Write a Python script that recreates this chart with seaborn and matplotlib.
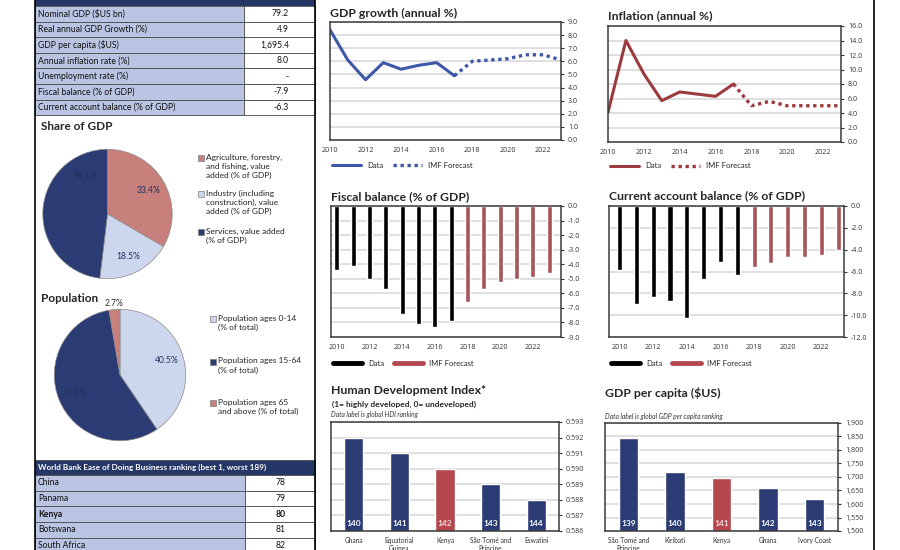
import numpy as np
import pandas as pd
import matplotlib.pyplot as plt
import seaborn as sns
from matplotlib.patches import Rectangle
from matplotlib.lines import Line2D
from matplotlib.ticker import FuncFormatter

# ---- data ----
summary_labels = ['Nominal GDP ($US bn)', 'Real annual GDP Growth (%)', 'GDP per capita ($US)',
                  'Annual inflation rate (%)', 'Unemployment rate (%)', 'Fiscal balance (% of GDP)',
                  'Current account balance (% of GDP)']
summary_values = ['79.2', '4.9', '1,695.4', '8.0', '-', '-7.9', '-6.3']

share_labels = ['Agriculture, forestry,\nand fishing, value\nadded (% of GDP)',
                'Industry (including\nconstruction), value\nadded (% of GDP)',
                'Services, value added\n(% of GDP)']
share_values = [33.4, 18.5, 48.1]

pop_labels = ['Population ages 0-14\n(% of total)', 'Population ages 15-64\n(% of total)',
              'Population ages 65\nand above (% of total)']
pop_values = [40.5, 56.8, 2.7]

doing_title = 'World Bank Ease of Doing Business ranking (best 1, worst 189)'
doing_countries = ['China', 'Panama', 'Kenya', 'Botswana', 'South Africa']
doing_ranks = [78, 79, 80, 81, 82]

years = list(range(2010, 2024))
n_actual = 8  # 2010-2017 actual, 2018-2023 IMF forecast
gdp_growth_data = [8.4, 6.1, 4.6, 5.9, 5.4, 5.7, 5.9, 4.9]
gdp_growth_fcst = [4.9, 6.0, 6.1, 6.2, 6.5, 6.5, 6.1]
inflation_data = [4.1, 14.0, 9.4, 5.7, 6.9, 6.6, 6.3, 8.0]
inflation_fcst = [8.0, 5.0, 5.6, 5.0, 5.0, 5.0, 5.0]
fiscal_balance = [-4.4, -4.1, -5.0, -5.7, -7.4, -8.1, -8.3, -7.9, -6.6, -5.7, -5.2, -5.0, -4.9, -4.6]
current_account = [-5.9, -9.0, -8.3, -8.7, -10.3, -6.7, -5.1, -6.3, -5.6, -5.2, -4.7, -4.65, -4.5, -4.0]

hdi_countries = ['Ghana', 'Equatorial\nGuinea', 'Kenya', 'São Tomé and\nPríncipe', 'Eswatini']
hdi_values = [0.592, 0.591, 0.590, 0.589, 0.588]
hdi_ranks = [140, 141, 142, 143, 144]

gdppc_countries = ['São Tomé and\nPríncipe', 'Kiribati', 'Kenya', 'Ghana', 'Ivory Coast']
gdppc_values = [1846, 1719, 1695, 1660, 1620]
gdppc_ranks = [139, 140, 141, 142, 143]

# ---- style ----
sns.set_style('white')
plt.rcParams['font.family'] = ['Lato', 'DejaVu Sans']
TICK_FONT = ['Open Sans', 'DejaVu Sans']

NAVY = '#2b3b73'
LIGHT = '#ccd7ee'
PINK = '#c8807c'
BLUE_LINE = '#3d58a8'
RED_LINE = '#9c3b3d'
RED_BAR = '#b5474f'
CELL = '#b9c5e2'
HEAD = '#243767'
GRID = '#d9d9d9'
FRAME = '#3a3a3a'

fig = plt.figure(figsize=(9, 5.5), dpi=100)

ov = fig.add_axes([0, 0, 1, 1])
ov.set_xlim(0, 900)
ov.set_ylim(550, 0)
ov.axis('off')


def px_axes(x0, y0, x1, y1):
    return fig.add_axes([x0 / 900, 1 - y1 / 550, (x1 - x0) / 900, (y1 - y0) / 550])


def frame(ax):
    for s in ax.spines.values():
        s.set_visible(True)
        s.set_color(FRAME)
        s.set_linewidth(1.1)


def tick_fonts(ax, size=5.1):
    for lab in ax.get_xticklabels() + ax.get_yticklabels():
        lab.set_family(TICK_FONT)
        lab.set_fontsize(size)


# ---- left panel tables ----
row_h = 15.6
ov.add_patch(Rectangle((35, -4), 280, 10, fc=HEAD, ec='none'))
for i, (lab, val) in enumerate(zip(summary_labels, summary_values)):
    y0 = 6 + i * row_h
    ov.add_patch(Rectangle((35, y0), 209, row_h, fc=CELL, ec='#4a4a4a', lw=0.6))
    ov.add_patch(Rectangle((244, y0), 71, row_h, fc='white', ec='#4a4a4a', lw=0.6))
    ov.text(38, y0 + row_h / 2, lab, fontsize=6.2, va='center', ha='left', color='#111111')
    ov.text(289, y0 + row_h / 2, val, fontsize=6.2, va='center', ha='right', color='#111111')

ov.add_patch(Rectangle((35, 459.5), 280, row_h, fc=HEAD, ec='#4a4a4a', lw=0.6))
ov.text(38, 459.5 + row_h / 2, doing_title, fontsize=5.9, fontweight='bold', color='white', va='center')
for i, (c, r) in enumerate(zip(doing_countries, doing_ranks)):
    y0 = 459.5 + (i + 1) * row_h
    w = 'bold' if c == 'Kenya' else 'normal'
    ov.add_patch(Rectangle((35, y0), 210, row_h, fc=CELL, ec='#4a4a4a', lw=0.6))
    ov.add_patch(Rectangle((245, y0), 70, row_h, fc='white', ec='#4a4a4a', lw=0.6))
    ov.text(38, y0 + row_h / 2, c, fontsize=6.2, va='center', fontweight=w, color='#111111')
    ov.text(281, y0 + row_h / 2, str(r), fontsize=6.2, va='center', ha='center', fontweight=w,
            color='#111111')

# panel borders
ov.plot([35, 35], [0, 550], color='black', lw=1.2)
ov.plot([315, 315], [0, 550], color='black', lw=1.2)
ov.plot([874, 874], [0, 550], color='black', lw=1.2)

# ---- pies ----
ov.text(41, 126, 'Share of GDP', fontsize=8.5, fontweight='bold', va='center')
ax = px_axes(41.5, 148, 173.5, 280)
share_colors = [PINK, LIGHT, NAVY]
w, t, at = ax.pie(share_values, colors=share_colors, startangle=90, counterclock=False,
                  autopct='%.1f%%', pctdistance=0.73,
                  wedgeprops=dict(edgecolor='#8a8a8a', linewidth=0.5),
                  textprops=dict(fontsize=6.2, color='#1f2f5c'))
at[2].set_position((0.68 * np.cos(np.deg2rad(119)), 0.68 * np.sin(np.deg2rad(119))))
ax.set_xlim(-1.02, 1.02)
ax.set_ylim(-1.02, 1.02)
ax.set_aspect('equal')

for i, (lab, col) in enumerate(zip(share_labels, share_colors)):
    y = [158, 194, 232][i]
    ov.add_patch(Rectangle((198, y - 3), 6, 6, fc=col, ec='#7f7f7f', lw=0.5))
    ov.text(206, y - 4.5, lab, fontsize=6, va='top', ha='left', color='#222222', linespacing=1.35)

ov.text(41, 298, 'Population', fontsize=8.5, fontweight='bold', va='center')
ax = px_axes(53, 308, 187, 442)
pop_colors = [LIGHT, NAVY, PINK]
w, t, at = ax.pie(pop_values, colors=pop_colors, startangle=90, counterclock=False,
                  autopct='%.1f%%', pctdistance=0.75,
                  wedgeprops=dict(edgecolor='#8a8a8a', linewidth=0.5),
                  textprops=dict(fontsize=6.2, color='#1f2f5c'))
theta = np.deg2rad(90 + pop_values[2] / sum(pop_values) * 360 / 2)
at[2].set_position((1.1 * np.cos(theta), 1.1 * np.sin(theta)))
at[2].set_color('#333333')
ax.set_xlim(-1.02, 1.02)
ax.set_ylim(-1.02, 1.02)
ax.set_aspect('equal')

for i, (lab, col) in enumerate(zip(pop_labels, pop_colors)):
    y = [319, 362, 403][i]
    ov.add_patch(Rectangle((210, y - 3), 6, 6, fc=col, ec='#7f7f7f', lw=0.5))
    ov.text(218, y - 4.5, lab, fontsize=6, va='top', ha='left', color='#222222', linespacing=1.35)


# ---- line charts ----
def line_panel(box, actual, fcst, color, ymax, step, title, title_y, leg_y):
    ax = px_axes(*box)
    sns.lineplot(x=years[:n_actual], y=actual, ax=ax, color=color, linewidth=2.2, label='Data')
    sns.lineplot(x=years[n_actual - 1:], y=fcst, ax=ax, color=color, linewidth=2.4,
                 linestyle=(0, (1, 1.1)), label='IMF Forecast')
    ax.set_xlim(2010, 2023)
    ax.set_ylim(0, ymax)
    ax.set_yticks(np.arange(0, ymax + 0.01, step))
    ax.set_xticks(range(2010, 2023, 2))
    ax.yaxis.tick_right()
    ax.yaxis.set_major_formatter(FuncFormatter(lambda v, p: f'{v:.1f}'))
    ax.grid(axis='y', color=GRID, lw=1.2)
    ax.set_axisbelow(True)
    ax.tick_params(length=2, pad=3, colors='#333333')
    ax.set_xlabel('')
    ax.set_ylabel('')
    tick_fonts(ax)
    frame(ax)
    h = box[3] - box[1]
    ax.legend(loc='center left', bbox_to_anchor=(-0.02, -(leg_y - box[3]) / h), ncol=2,
              frameon=False, fontsize=5.5, handlelength=3.8, columnspacing=1.2, handletextpad=0.8)
    ov.text(box[0], title_y, title, fontsize=8.8, fontweight='bold', va='center')
    return ax


line_panel((330, 22, 561, 140), gdp_growth_data, gdp_growth_fcst, BLUE_LINE, 9, 1,
           'GDP growth (annual %)', 13, 165)
line_panel((608, 26, 841, 142), inflation_data, inflation_fcst, RED_LINE, 16, 2,
           'Inflation (annual %)', 16, 166)


# ---- balance bar charts ----
def bar_panel(box, values, ymin, step, title, title_y, leg_y, xlim):
    ax = px_axes(*box)
    df = pd.DataFrame({'year': [str(y) for y in years], 'value': values,
                       'kind': ['Data'] * n_actual + ['IMF Forecast'] * (len(years) - n_actual)})
    sns.barplot(data=df, x='year', y='value', hue='kind', dodge=False, width=0.3,
                palette={'Data': 'black', 'IMF Forecast': RED_BAR}, ax=ax, legend=False)
    ax.set_ylim(ymin, 0)
    ax.set_xlim(*xlim)
    ax.set_yticks(np.arange(ymin, 0.01, step))
    ax.set_xticks(range(0, len(years), 2))
    ax.set_xticklabels([str(y) for y in years[::2]])
    ax.yaxis.tick_right()
    ax.yaxis.set_major_formatter(FuncFormatter(lambda v, p: f'{v:.1f}'))
    ax.grid(axis='y', color=GRID, lw=1.2)
    ax.set_axisbelow(True)
    ax.tick_params(length=2, pad=3, colors='#333333')
    ax.set_xlabel('')
    ax.set_ylabel('')
    tick_fonts(ax)
    frame(ax)
    h = box[3] - box[1]
    handles = [Line2D([], [], color='black', lw=3.5), Line2D([], [], color=RED_BAR, lw=3.5)]
    ax.legend(handles, ['Data', 'IMF Forecast'], loc='center left',
              bbox_to_anchor=(-0.02, -(leg_y - box[3]) / h), ncol=2, frameon=False,
              fontsize=5.5, handlelength=3.8, columnspacing=1.2, handletextpad=0.8)
    ov.text(box[0], title_y, title, fontsize=8.8, fontweight='bold', va='center')
    return ax


bar_panel((331, 206, 561, 337), fiscal_balance, -9, 1, 'Fiscal balance (% of GDP)', 197, 363,
          (-0.35, 13.72))
bar_panel((609, 206, 844, 337), current_account, -12, 2, 'Current account balance (% of GDP)', 196, 363,
          (-0.63, 13.35))


# ---- ranking bar charts ----
def rank_panel(box, countries, values, ranks, ylo, yhi, step, fmt, title, title_y, note, note_y):
    ax = px_axes(*box)
    cols = [RED_BAR if c == 'Kenya' else NAVY for c in countries]
    sns.barplot(x=countries, y=values, hue=countries, palette=cols, width=0.42, ax=ax,
                legend=False, saturation=1)
    ax.set_ylim(ylo, yhi)
    ax.set_xlim(-0.5, len(countries) - 0.5)
    ax.set_yticks(np.arange(ylo, yhi + step / 2, step))
    ax.yaxis.tick_right()
    ax.yaxis.set_major_formatter(FuncFormatter(fmt))
    ax.grid(axis='y', color=GRID, lw=1.2)
    ax.set_axisbelow(True)
    ax.tick_params(axis='y', length=2, pad=3, colors='#333333')
    ax.tick_params(axis='x', length=0, pad=4, colors='#333333')
    ax.set_xlabel('')
    ax.set_ylabel('')
    tick_fonts(ax)
    for lab in ax.get_xticklabels():
        lab.set_family(['Lato', 'DejaVu Sans'])
        lab.set_fontsize(4.8)
    frame(ax)
    for i, (c, r) in enumerate(zip(countries, ranks)):
        ax.text(i, ylo + 0.07 * (yhi - ylo), str(r), ha='center', va='center', fontsize=6,
                fontweight='bold', color='#f6dcda' if c == 'Kenya' else 'white')
    ov.text(box[0], title_y, title, fontsize=8.8, fontweight='bold', va='center')
    ov.text(box[0], note_y, note, fontsize=4.8, style='italic', va='center', color='#333333')
    return ax


rank_panel((331, 422, 559, 531), hdi_countries, hdi_values, hdi_ranks, 0.586, 0.593, 0.001,
           lambda v, p: f'{v:.3f}', 'Human Development Index*', 390,
           'Data label is global HDI ranking', 414)
ov.text(332, 404, '(1= highly developed, 0= undeveloped)', fontsize=6, fontweight='bold', va='center')

rank_panel((605, 423, 838, 531), gdppc_countries, gdppc_values, gdppc_ranks, 1500, 1900, 50,
           lambda v, p: f'{v:,.0f}', 'GDP per capita ($US)', 393,
           'Data label is global GDP per capita ranking', 416)

fig.savefig('out.png', dpi=100)
